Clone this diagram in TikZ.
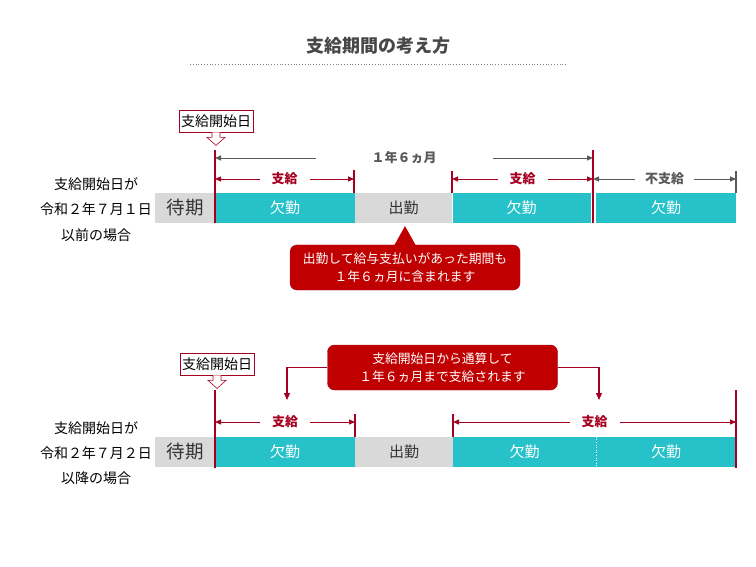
\documentclass[tikz,border=0pt]{standalone}
\usepackage{fontspec}
\setmainfont{Noto Sans CJK JP}
\usetikzlibrary{arrows.meta,calc}
\definecolor{kekkin}{HTML}{26C1C9}
\definecolor{haiiro}{HTML}{D9D9D9}
\definecolor{aka}{HTML}{C00000}
\definecolor{senaka}{HTML}{A50021}
\definecolor{sumi}{HTML}{333333}
\definecolor{usuzumi}{HTML}{595959}
\newcommand{\fs}[1]{\fontsize{#1}{#1}\selectfont}
\begin{document}
\begin{tikzpicture}[x=1pt,y=-1pt,
    bar/.style={draw=none, inner sep=0pt, minimum height=30pt, font=\fs{15}},
    tealbar/.style={bar, fill=kekkin, text=white},
    graybar/.style={bar, fill=haiiro, text=sumi},
    redline/.style={senaka, line width=1.8pt},
    redtick/.style={senaka, line width=1.4pt},
    redspan/.style={senaka, line width=0.9pt, {Triangle[length=6pt,width=5pt]}-{Triangle[length=6pt,width=5pt]}},
    grayspan/.style={usuzumi, line width=0.9pt, {Triangle[length=6pt,width=5pt]}-{Triangle[length=6pt,width=5pt]}},
    spantext/.style={fill=white, inner ysep=1pt, font=\bfseries\fs{13}},
    startbox/.style={draw=senaka, fill=white, line width=0.8pt, inner xsep=2pt, inner ysep=1pt,
        minimum height=22pt, font=\fs{14}},
    notebox/.style={fill=aka, draw=senaka, rounded corners=7pt, text=white, align=center,
        minimum width=230pt, minimum height=45pt, font=\fs{12.8}, inner sep=0pt},
    jouken/.style={font=\fs{14}, text=black},
    hollow/.style={draw=senaka, fill=white, line width=0.6pt, line join=miter}
  ]
  \useasboundingbox (0,0) rectangle (756,567);

  % title
  \node[font=\bfseries\fs{18}, text=sumi!90] (title) at (378,46) {支給期間の考え方};
  \coordinate (tl) at (190,64);
  \coordinate (tr) at (567,64);
  \draw[gray, dotted, line width=0.8pt] (tl) -- (tr);

  %%% case 1
  \node[jouken] (j1a) at (96,184) {支給開始日が};
  \node[jouken] (j1b) at (96,209) {令和２年７月１日};
  \node[jouken] (j1c) at (96,235) {以前の場合};

  \node[graybar, minimum width=60pt, font=\fs{18.5}] (tk1) at (185,208) {待期};
  \node[tealbar, minimum width=140pt] (kk1a) at (285,208) {欠勤};
  \node[graybar, minimum width=97pt] (sk1) at (403.5,208) {出勤};
  \node[tealbar, minimum width=138pt] (kk1b) at (521.5,208) {欠勤};
  \node[tealbar, minimum width=140pt] (kk1c) at (666,208) {欠勤};

  \coordinate (a1top) at (215,150);  \coordinate (a1bot) at (215,223);
  \coordinate (b1top) at (354,170);  \coordinate (b1bot) at (354,193);
  \coordinate (c1top) at (452,171);  \coordinate (c1bot) at (452,193);
  \coordinate (d1top) at (593,150);  \coordinate (d1bot) at (593,223);
  \coordinate (e1top) at (736,171);  \coordinate (e1bot) at (736,193);
  \draw[redline] (a1top) -- (a1bot);
  \draw[redline] (d1top) -- (d1bot);
  \draw[redtick] (b1top) -- (b1bot);
  \draw[redtick] (c1top) -- (c1bot);
  \draw[usuzumi, line width=1.2pt] (e1top) -- (e1bot);

  \draw[grayspan] (215,158) -- (593,158)
    node[midway, spantext, text=usuzumi, inner xsep=56pt] {１年６ヵ月};
  \draw[redspan] (215,179) -- (354,179)
    node[midway, spantext, text=senaka, inner xsep=12pt] {支給};
  \draw[redspan] (452,179) -- (593,179)
    node[midway, spantext, text=senaka, inner xsep=12pt] {支給};
  \draw[grayspan] (593,179) -- (736,179)
    node[midway, spantext, text=usuzumi, inner xsep=10pt] {不支給};

  \node[startbox] (ks1) at (216,121) {支給開始日};
  \draw[hollow] (ks1.south) ++(-4,0) -- ++(0,5) -- ++(-5,0) -- ++(9,8)
    -- ++(9,-8) -- ++(-5,0) -- ++(0,-5);

  \node[notebox] (note1) at (405,267.5) {出勤して給与支払いがあった期間も\\[5pt]１年６ヵ月に含まれます};
  \coordinate (tip1) at (405,226);
  \fill[aka] ($(note1.north)+(-11,1)$) -- (tip1) -- ($(note1.north)+(11,1)$) -- cycle;

  %%% case 2
  \node[jouken] (j2a) at (96,428) {支給開始日が};
  \node[jouken] (j2b) at (96,453) {令和２年７月２日};
  \node[jouken] (j2c) at (96,478) {以降の場合};

  \node[graybar, minimum width=60pt, font=\fs{18.5}] (tk2) at (185,452) {待期};
  \node[tealbar, minimum width=140pt] (kk2a) at (285,452) {欠勤};
  \node[graybar, minimum width=98pt] (sk2) at (404,452) {出勤};
  \node[tealbar, minimum width=143pt] (kk2b) at (524.5,452) {欠勤};
  \node[tealbar, minimum width=140pt] (kk2c) at (666,452) {欠勤};
  \draw[white, dotted, line width=0.6pt] (kk2c.north west) -- (kk2c.south west);

  \coordinate (a2top) at (215,390);  \coordinate (a2bot) at (215,468);
  \coordinate (b2top) at (355,414);  \coordinate (b2bot) at (355,437);
  \coordinate (c2top) at (453,414);  \coordinate (c2bot) at (453,437);
  \coordinate (d2top) at (736,390);  \coordinate (d2bot) at (736,468);
  \draw[redline] (a2top) -- (a2bot);
  \draw[redline] (d2top) -- (d2bot);
  \draw[redtick] (b2top) -- (b2bot);
  \draw[redtick] (c2top) -- (c2bot);

  \draw[redspan] (215,422) -- (355,422)
    node[midway, spantext, text=senaka, inner xsep=12pt] {支給};
  \draw[redspan] (453,422) -- (736,422)
    node[midway, spantext, text=senaka, inner xsep=12pt] {支給};

  \node[startbox] (ks2) at (217,364) {支給開始日};
  \draw[hollow] (ks2.south) ++(-4,0) -- ++(0,5) -- ++(-5,0) -- ++(9,8)
    -- ++(9,-8) -- ++(-5,0) -- ++(0,-5);

  \node[notebox] (note2) at (442.5,367.5) {支給開始日から通算して\\[5pt]１年６ヵ月まで支給されます};
  \coordinate (p2l) at (287,400);
  \coordinate (p2r) at (599,400);
  \draw[senaka, line width=1.2pt, -{Triangle[length=7pt,width=6pt]}] (note2.west) -| (p2l);
  \draw[senaka, line width=1.2pt, -{Triangle[length=7pt,width=6pt]}] (note2.east) -| (p2r);
\end{tikzpicture}
\end{document}
